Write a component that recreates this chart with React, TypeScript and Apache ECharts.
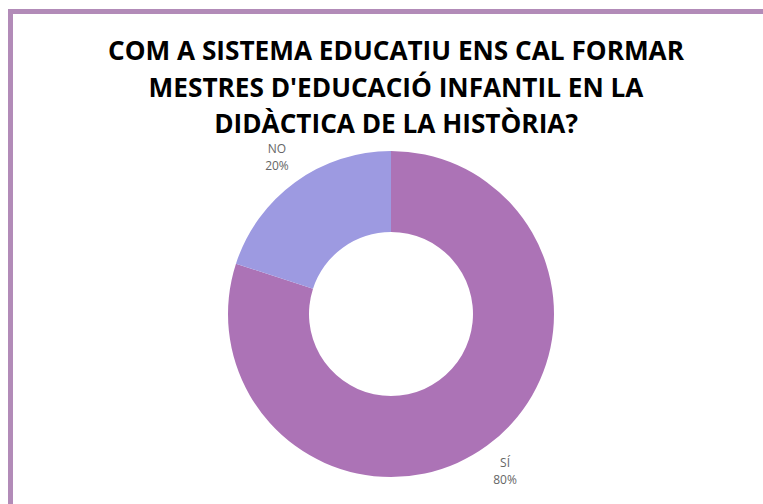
import React, { useEffect, useRef } from "react";
import * as echarts from "echarts";

const categories = ["SÍ", "NO"];
const values = [80, 20];
const colors = ["#ac73b6", "#9d9ae1"];
const titleLines = [
  "COM A SISTEMA EDUCATIU ENS CAL FORMAR",
  "MESTRES D'EDUCACIÓ INFANTIL EN LA",
  "DIDÀCTICA DE LA HISTÒRIA?",
];

export default function App() {
  const ref = useRef<HTMLDivElement>(null);
  useEffect(() => {
    if (!ref.current) return;
    const chart = echarts.init(ref.current, undefined, { renderer: "svg" });
    const data = categories.map((c, i) => ({ name: c, value: values[i], itemStyle: { color: colors[i] } }));
    chart.setOption({
      animation: false,
      backgroundColor: "#ffffff",
      title: {
        text: titleLines.join("\n"),
        left: 391,
        textAlign: "center",
        top: 27,
        padding: 5,
        textStyle: {
          fontFamily: "Open Sans",
          fontWeight: "bold",
          fontSize: 26.2,
          lineHeight: 36.5,
          color: "#000000",
        },
      },
      graphic: [
        { type: "rect", shape: { x: 8, y: 9, width: 755, height: 5 }, style: { fill: "#b28bb8" } },
        { type: "rect", shape: { x: 8, y: 9, width: 5, height: 495 }, style: { fill: "#b28bb8" } },
      ],
      series: [
        {
          type: "pie",
          center: [391, 314],
          radius: [82, 163],
          startAngle: 90,
          clockwise: true,
          silent: true,
          label: { show: false },
          labelLine: { show: false },
          data,
        },
        {
          type: "pie",
          center: [391, 314],
          radius: [184, 198],
          startAngle: 90,
          clockwise: true,
          silent: true,
          itemStyle: { color: "rgba(0,0,0,0)" },
          label: {
            show: true,
            position: "inside",
            formatter: "{b}\n{d}%",
            fontFamily: "Open Sans",
            fontSize: 12,
            lineHeight: 16.5,
            color: "#666666",
          },
          labelLine: { show: false },
          data: categories.map((c, i) => ({ name: c, value: values[i] })),
        },
      ],
    });
    return () => chart.dispose();
  }, []);
  return <div ref={ref} style={{ position: "absolute", left: 0, top: 0, width: 763, height: 504 }} />;
}
